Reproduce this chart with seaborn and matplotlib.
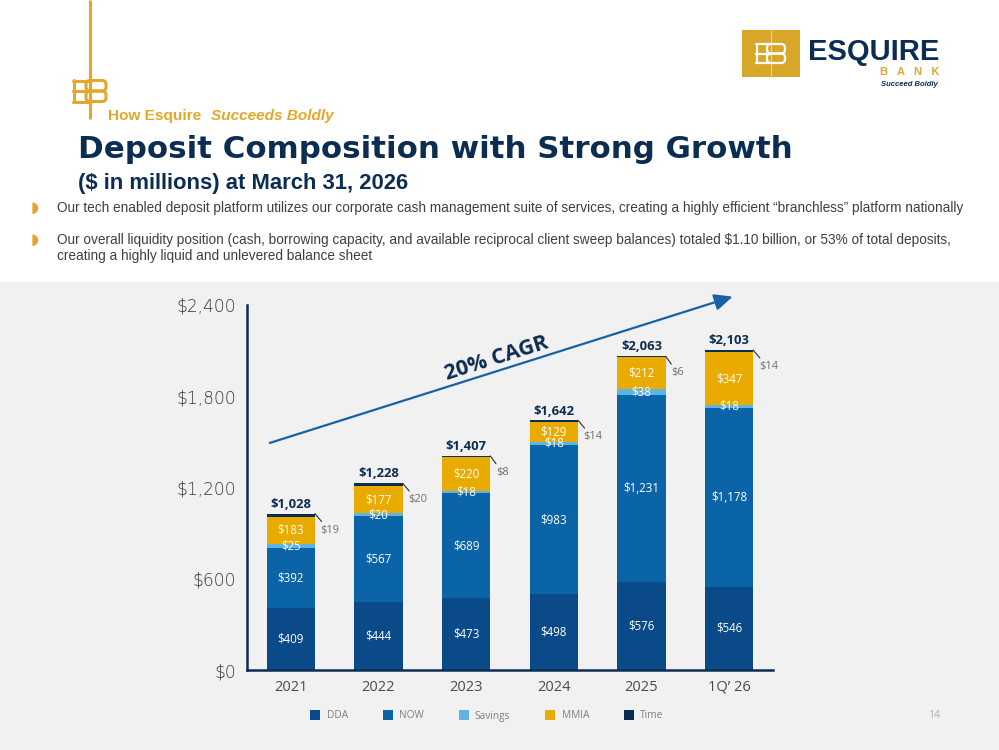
import matplotlib
matplotlib.use("Agg")
import matplotlib.pyplot as plt
import seaborn as sns
from matplotlib.patches import Rectangle, FancyBboxPatch
from matplotlib.lines import Line2D

# data ($ in millions)
periods = ["2021", "2022", "2023", "2024", "2025", "1Q\u2019 26"]
dda = [409, 444, 473, 498, 576, 546]
now = [392, 567, 689, 983, 1231, 1178]
savings = [25, 20, 18, 18, 38, 18]
mmia = [183, 177, 220, 129, 212, 347]
time_dep = [19, 20, 8, 14, 6, 14]
totals = [1028, 1228, 1407, 1642, 2063, 2103]
yticks = [0, 600, 1200, 1800, 2400]

c_dda = "#0b4a88"
c_now = "#0b64a8"
c_sav = "#5fb4e6"
c_mmia = "#eaab00"
c_time = "#0c2d52"
navy = "#0c2d52"
gold = "#e3a72a"
bg_gray = "#f1f1f1"

sns.set_style("white")
plt.rcParams["font.family"] = ["Open Sans", "DejaVu Sans"]

fig = plt.figure(figsize=(9.99, 7.5), dpi=100)

# full-figure pixel canvas for background and header
bg = fig.add_axes([0, 0, 1, 1], zorder=0)
bg.set_xlim(0, 999)
bg.set_ylim(750, 0)
bg.axis("off")
bg.add_patch(Rectangle((0, 282), 999, 468, color=bg_gray, lw=0))

# left brand mark
bg.plot([90, 90], [0, 119], color=gold, lw=2.2, solid_capstyle="butt")
for yy in (80.5, 91, 101.5):
    bg.plot([73, 90], [yy, yy], color=gold, lw=2.2)
bg.plot([73.5, 73.5], [80, 102], color=gold, lw=2.2)
for y0 in (80.5, 91):
    bg.add_patch(FancyBboxPatch((86, y0), 20, 10.5, boxstyle="round,pad=0,rounding_size=4",
                                fill=False, ec=gold, lw=2.2))
bg.text(108, 116, "How Esquire", color=gold, fontsize=11.1, fontweight="bold",
        family="Liberation Sans", va="center", ha="left")
bg.text(211, 116, "Succeeds Boldly", color=gold, fontsize=11.1, fontweight="bold",
        style="italic", family="Liberation Sans", va="center", ha="left")

# top-right logo
bg.add_patch(Rectangle((742, 30), 58, 47, color="#d8a629", lw=0))
bg.plot([771, 771], [30, 77], color="#f0d48a", lw=0.8)
for yy in (44, 53.5, 63):
    bg.plot([756, 771], [yy, yy], color="white", lw=1.6)
bg.plot([756.5, 756.5], [44, 63], color="white", lw=1.6)
for y0 in (44, 53.5):
    bg.add_patch(FancyBboxPatch((767, y0), 18, 9.5, boxstyle="round,pad=0,rounding_size=4",
                                fill=False, ec="white", lw=1.6))
bg.text(808, 52, "ESQUIRE", color=navy, fontsize=21, fontweight="bold",
        family="Liberation Sans", va="center", ha="left")
bg.text(939, 72, "B   A   N   K", color=gold, fontsize=8, fontweight="bold",
        family="Liberation Sans", va="center", ha="right")
bg.text(938, 85, "Succeed Boldly", color=navy, fontsize=5.5, fontweight="bold",
        style="italic", family="Liberation Sans", va="center", ha="right")

# titles
bg.text(78, 150, "Deposit Composition with Strong Growth", color=navy, fontsize=22.2,
        fontweight="bold", family="DejaVu Sans", va="center", ha="left")
bg.text(78, 184, "($ in millions) at March 31, 2026", color=navy, fontsize=15.8,
        fontweight="bold", family="Liberation Sans", va="center", ha="left")

# bullets
bullet_kw = dict(color="#3f3f3f", fontsize=9.85, family="Liberation Sans", va="center", ha="left")
bg.text(35, 208, "\u25D7", color=gold, fontsize=11, family="DejaVu Sans", va="center", ha="center")
bg.text(57, 208, "Our tech enabled deposit platform utilizes our corporate cash management suite of "
        "services, creating a highly efficient \u201cbranchless\u201d platform nationally", **bullet_kw)
bg.text(35, 239, "\u25D7", color=gold, fontsize=11, family="DejaVu Sans", va="center", ha="center")
bg.text(57, 240, "Our overall liquidity position (cash, borrowing capacity, and available reciprocal "
        "client sweep balances) totaled $1.10 billion, or 53% of total deposits,", **bullet_kw)
bg.text(57, 256, "creating a highly liquid and unlevered balance sheet", **bullet_kw)

bg.text(934, 715, "14", color="#b0b0b0", fontsize=7.5, va="center", ha="center")

# chart axes
ax = fig.add_axes([247 / 999, 80 / 750, 526 / 999, 365 / 750], zorder=2)
ax.patch.set_alpha(0)

# stacked bars drawn as overlapping cumulative sums
cum_mmia = [d + n + s + m for d, n, s, m in zip(dda, now, savings, mmia)]
cum_sav = [d + n + s for d, n, s in zip(dda, now, savings)]
cum_now = [d + n for d, n in zip(dda, now)]
full = [c + t for c, t in zip(cum_mmia, time_dep)]
for vals, col in [(full, c_time), (cum_mmia, c_mmia), (cum_sav, c_sav),
                  (cum_now, c_now), (dda, c_dda)]:
    sns.barplot(x=periods, y=vals, color=col, width=0.55, saturation=1,
                linewidth=0, ax=ax, zorder=2)

ax.set_xlim(-0.5, 5.5)
ax.set_ylim(0, 2400)
ax.set_xlabel("")
ax.set_ylabel("")

lbl = dict(color="white", fontsize=8.3, ha="center", va="center", zorder=5)
for i in range(len(periods)):
    ax.text(i, dda[i] / 2, f"${dda[i]:,}", **lbl)
    ax.text(i, dda[i] + now[i] / 2, f"${now[i]:,}", **lbl)
    ax.text(i, cum_sav[i] - savings[i] / 2, f"${savings[i]:,}", **lbl)
    ax.text(i, cum_sav[i] + mmia[i] / 2, f"${mmia[i]:,}", **lbl)
    ax.annotate(f"${totals[i]:,}", (i, full[i]), xytext=(0, 2), textcoords="offset points",
                ha="center", va="bottom", fontsize=9.4, fontweight="bold", color=navy,
                annotation_clip=False)
    ax.annotate(f"${time_dep[i]}", (i + 0.275, full[i]), xytext=(4, -8),
                textcoords="offset points", ha="left", va="top", fontsize=8,
                color="#6f6f6f", annotation_clip=False,
                arrowprops=dict(arrowstyle="-", color="#2b2b2b", lw=0.8, relpos=(0.2, 1),
                                shrinkA=0, shrinkB=0))

# CAGR arrow
ax.annotate("", xy=(5.04, 2455), xytext=(-0.24, 1493), annotation_clip=False,
            arrowprops=dict(arrowstyle="-|>,head_length=1.1,head_width=0.5", color="#1762a6",
                            lw=1.6, shrinkA=0, shrinkB=0))
ax.text(2.35, 2050, "20% CAGR", rotation=17.5, rotation_mode="anchor", ha="center",
        va="center", fontsize=15.5, fontweight="bold", color=navy)

# axes styling
sns.despine(ax=ax)
for side in ("left", "bottom"):
    ax.spines[side].set_color(navy)
    ax.spines[side].set_linewidth(1.8)
ax.set_yticks(yticks)
ax.set_yticklabels([f"${v:,}" for v in yticks], family="DejaVu Sans", fontweight="light")
ax.tick_params(axis="y", direction="in", length=13, width=1.8, color=navy, pad=8,
               labelsize=12.3, labelcolor="#383838")
ax.set_xticks(range(len(periods)))
ax.set_xticklabels(periods)
ax.set_xticks([i + 0.5 for i in range(len(periods))], minor=True)
ax.tick_params(axis="x", which="major", length=0, pad=7, labelsize=10.5, labelcolor="#4a4a4a")
ax.tick_params(axis="x", which="minor", direction="in", length=7, width=1.8, color=navy)

# legend
handles = [Line2D([], [], marker="s", ls="", markersize=7.5, markeredgewidth=0, color=c, label=n)
           for n, c in [("DDA", c_dda), ("NOW", c_now), ("Savings", c_sav),
                        ("MMIA", c_mmia), ("Time", c_time)]]
leg = fig.legend(handles=handles, loc="center", bbox_to_anchor=(487 / 999, 1 - 716 / 750),
                 ncol=5, frameon=False, fontsize=7.3, handlelength=1.0, handletextpad=0.6,
                 columnspacing=3.45, labelcolor="#7f7f7f")

fig.savefig("out.png", dpi=100)
